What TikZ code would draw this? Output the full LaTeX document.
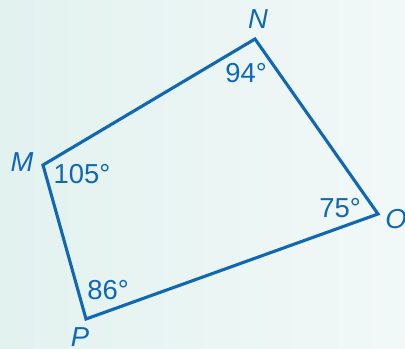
\documentclass[tikz,border=0pt]{standalone}
\usepackage{fontspec}
\setmainfont{Liberation Sans}
\usepackage{xcolor}
\definecolor{edgeblue}{RGB}{16,104,180}
\definecolor{mintL}{RGB}{226,242,239}
\definecolor{mintR}{RGB}{242,248,248}

\begin{document}
\begin{tikzpicture}[
    x=0.025cm, y=-0.025cm,
    vlabel/.style={font=\fontsize{19.5}{22}\selectfont\itshape, text=edgeblue, inner sep=0pt},
    alabel/.style={font=\fontsize{19.5}{22}\selectfont, text=edgeblue, inner sep=0pt},
    side/.style={draw=edgeblue, line width=2.2pt, line join=miter}
]
    % background
    \shade[left color=mintL, right color=mintR] (0,0) rectangle (405,348);
    \useasboundingbox (0,0) rectangle (405,348);

    % vertices
    \coordinate (M) at (43,165);
    \coordinate (N) at (255,39);
    \coordinate (O) at (378,214);
    \coordinate (P) at (86,319);

    \draw[side] (M) -- (N) -- (O) -- (P) -- cycle;

    % vertex names
    \node[vlabel] (lM) at (22,162) {M};
    \node[vlabel] (lN) at (258,19) {N};
    \node[vlabel] (lO) at (396,219) {O};
    \node[vlabel] (lP) at (80,337) {P};

    % angles
    \node[alabel] (aN) at (246,73) {94°};
    \node[alabel] (aM) at (82,174) {105°};
    \node[alabel] (aO) at (340,208) {75°};
    \node[alabel] (aP) at (108,290) {86°};
\end{tikzpicture}
\end{document}
